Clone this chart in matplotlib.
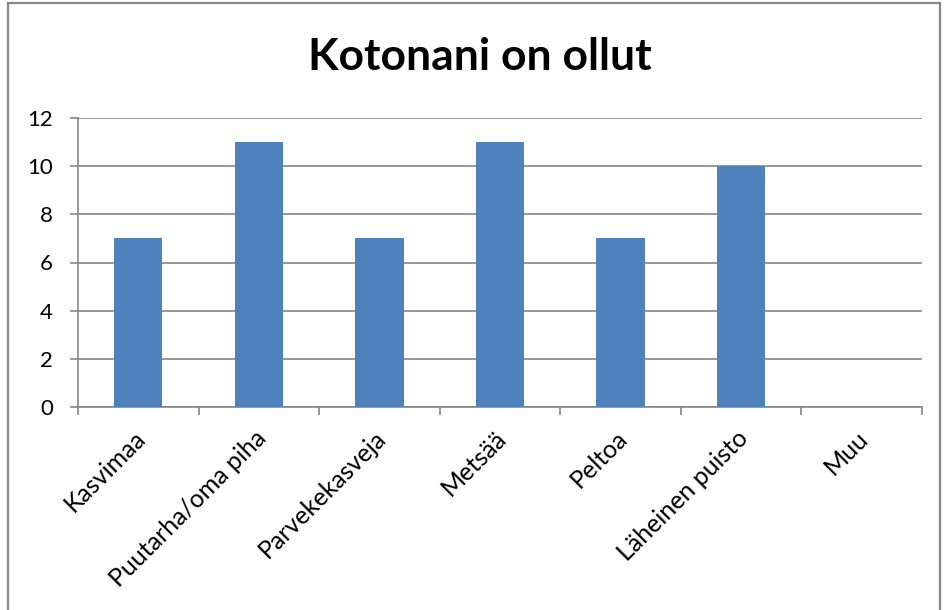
import matplotlib

matplotlib.use("Agg")
import matplotlib.pyplot as plt
from matplotlib.patches import Rectangle
from matplotlib.transforms import ScaledTranslation

# Kaavion tiedot
categories = ["Kasvimaa", "Puutarha/oma piha", "Parvekekasveja", "Metsää", "Peltoa", "Läheinen puisto", "Muu"]
counts = [7, 11, 7, 11, 7, 10, 0]
y_ticks = [0, 2, 4, 6, 8, 10, 12]

BAR_COLOR = "#4F81BD"
GRID_COLOR = "#868686"
FONT = ["Lato", "DejaVu Sans"]

plt.rcParams["font.family"] = FONT

fig = plt.figure(figsize=(9.45, 6.10), dpi=100)
fig.patch.set_facecolor("white")

# ulkoreunus
fig.patches.append(
    Rectangle((8 / 945, -0.05), 932 / 945, 1.05 - 3 / 610, transform=fig.transFigure,
              fill=False, edgecolor="#878787", linewidth=1.6, clip_on=False)
)

ax = fig.add_axes([78 / 945, 1 - 407 / 610, (922 - 78) / 945, (407 - 118) / 610])
xs = list(range(len(categories)))
ax.bar(xs, counts, width=0.4, color=BAR_COLOR, zorder=3)

ax.set_xlim(-0.5, len(categories) - 0.5)
ax.set_ylim(0, 12)
ax.set_yticks(y_ticks)
ax.set_yticklabels([str(v) for v in y_ticks], fontsize=16)
ax.yaxis.grid(True, color=GRID_COLOR, linewidth=1.2, zorder=0)

ax.set_xticks(xs)
ax.set_xticklabels(categories, rotation=45, ha="right", rotation_mode="anchor", fontsize=18)
ax.set_xticks([x - 0.5 for x in xs] + [len(categories) - 0.5], minor=True)
ax.tick_params(axis="x", which="major", length=0, pad=14)
ax.tick_params(axis="x", which="minor", length=6, color=GRID_COLOR, width=1.2)
ax.tick_params(axis="y", length=6, color=GRID_COLOR, width=1.2, pad=12)

# siirrä kategorianimiä hieman vasemmalle
shift = ScaledTranslation(-5 / 100, 0, fig.dpi_scale_trans)
for label in ax.get_xticklabels():
    label.set_transform(label.get_transform() + shift)

for side in ("top", "right"):
    ax.spines[side].set_visible(False)
for side in ("left", "bottom"):
    ax.spines[side].set_color(GRID_COLOR)
    ax.spines[side].set_linewidth(1.2)

fig.text(480 / 945, 1 - 57 / 610, "Kotonani on ollut", ha="center", va="center",
         fontsize=32, fontweight="bold")

fig.savefig("out.png", dpi=100)
